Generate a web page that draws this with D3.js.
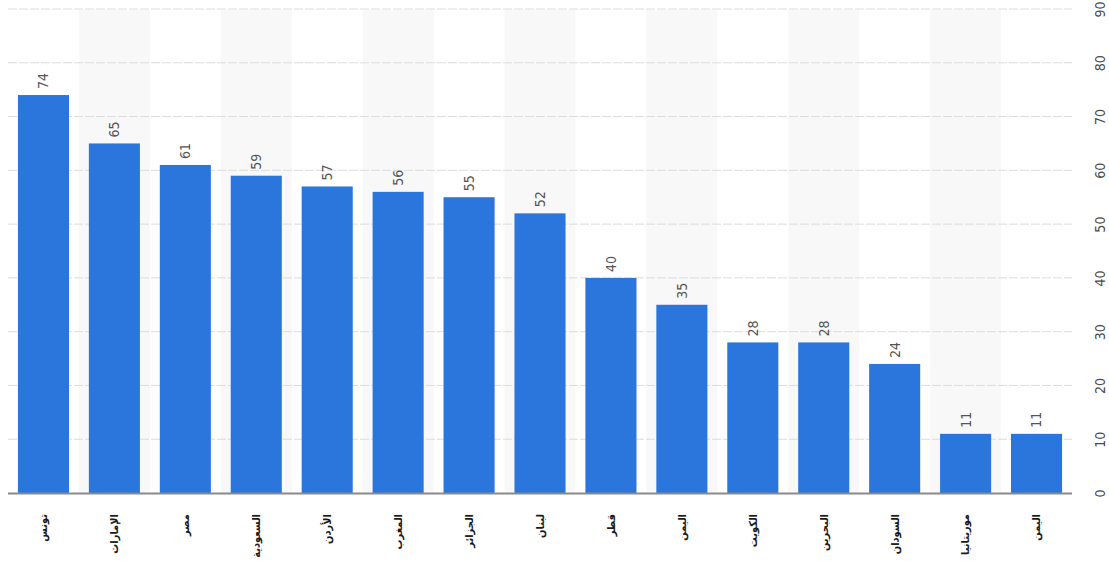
<!DOCTYPE html>
<html lang="ar">
<head>
<meta charset="utf-8">
<script src="https://cdn.jsdelivr.net/npm/d3@7"></script>
<style>
  html, body { margin: 0; padding: 0; background: #fff; }
  svg { display: block; }
</style>
</head>
<body>
<svg id="chart" width="1109" height="561"></svg>
<script>
// Countries (x categories) and their values
const countries = ["تونس", "الإمارات", "مصر", "السعودية", "الأردن", "المغرب", "الجزائر", "لبنان", "قطر", "اليمن", "الكويت", "البحرين", "السودان", "موريتانيا", "اليمن"];
const values = [74, 65, 61, 59, 57, 56, 55, 52, 40, 35, 28, 28, 24, 11, 11];
const yTicks = [0, 10, 20, 30, 40, 50, 60, 70, 80, 90];

const svg = d3.select("#chart");
const plotLeft = 8, plotRight = 1072, plotTop = 9, plotBottom = 493;

const idx = d3.range(countries.length);
const x = d3.scaleBand().domain(idx).range([plotLeft, plotRight]).paddingInner(0.28).paddingOuter(0.14);
const y = d3.scaleLinear().domain([0, 90]).range([plotBottom, plotTop]);
const step = x.step();
const gapHalf = step * x.paddingInner() / 2;
const numFont = "'DejaVu Sans Condensed', 'DejaVu Sans', sans-serif";

// alternating background stripes
svg.append("g").selectAll("rect").data(idx.filter(i => i % 2 === 1)).join("rect")
  .attr("x", i => x(i) - gapHalf)
  .attr("y", y(90) + 1)
  .attr("width", step)
  .attr("height", plotBottom - y(90) - 1)
  .attr("fill", "#f8f8f8");

// dashed gridlines
svg.append("g").selectAll("line").data(yTicks.filter(t => t > 0)).join("line")
  .attr("x1", plotLeft).attr("x2", plotRight)
  .attr("y1", d => y(d)).attr("y2", d => y(d))
  .attr("stroke", "#dcdcdc").attr("stroke-width", 1)
  .attr("stroke-dasharray", "9,2");

// bars
svg.append("g").selectAll("rect").data(idx).join("rect")
  .attr("x", i => x(i))
  .attr("y", i => y(values[i]))
  .attr("width", x.bandwidth())
  .attr("height", i => y(0) - y(values[i]))
  .attr("fill", "#2a76dd");

// baseline
svg.append("line")
  .attr("x1", plotLeft).attr("x2", plotRight)
  .attr("y1", y(0) + 0.5).attr("y2", y(0) + 0.5)
  .attr("stroke", "#8a8a8a").attr("stroke-width", 2);

// value labels above bars
svg.append("g").selectAll("text").data(idx).join("text")
  .attr("transform", i => `translate(${x(i) + x.bandwidth() / 2},${y(values[i]) - 6}) rotate(-90)`)
  .attr("dy", "0.35em")
  .attr("text-anchor", "start")
  .attr("font-family", numFont)
  .attr("font-size", 14)
  .attr("fill", "#555")
  .text(i => values[i]);

// right-side y axis tick labels
const yAxis = d3.axisRight(y).tickValues(yTicks).tickSize(0).tickPadding(0);
const ga = svg.append("g").attr("transform", "translate(1100,0)").call(yAxis);
ga.select(".domain").remove();
ga.selectAll("text")
  .attr("transform", "rotate(-90)")
  .attr("x", 0).attr("y", 0)
  .attr("dy", "0.35em")
  .attr("text-anchor", "middle")
  .attr("font-family", numFont)
  .attr("font-size", 14)
  .attr("fill", "#4a4a4a");

// country labels under the baseline
svg.append("g").selectAll("text").data(idx).join("text")
  .attr("transform", i => `translate(${x(i) + x.bandwidth() / 2},514) rotate(-90)`)
  .attr("dy", "0.35em")
  .attr("text-anchor", "end")
  .attr("font-family", "'DejaVu Sans Condensed', 'DejaVu Sans', sans-serif")
  .attr("font-size", 11)
  .attr("font-weight", "bold")
  .attr("fill", "#1a1a1a")
  .text(i => countries[i]);
</script>
</body>
</html>
